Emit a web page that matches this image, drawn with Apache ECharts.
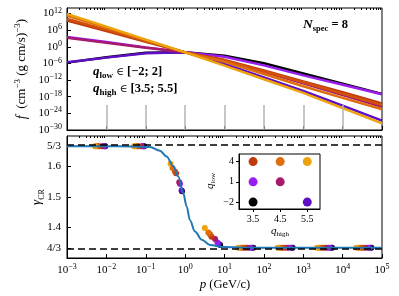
<!DOCTYPE html>
<html><head><meta charset="utf-8">
<script src="https://cdn.jsdelivr.net/npm/echarts@6/dist/echarts.min.js"></script>
<style>html,body{margin:0;padding:0;background:#fff}#c{width:399px;height:296px}</style>
</head><body><div id="c"></div>
<script>
// ---- data (log10 values) ----
const logP = [-3, -2, -1, 0, 1, 2, 3, 4, 5];           // log10 p (GeV/c)
const fBlack   = [-5.7, -3.8, -2.1, -2.0, -3.2, -5.9, -9.6, -13.3, -17.0];
const fIndigo  = [-5.6, -3.9, -2.3, -2.0, -6.2, -11.0, -15.9, -21.2, -26.6];
const fViolet  = [3.5, 1.7, -0.2, -2.0, -3.6, -6.7, -10.3, -13.7, -17.1];
const fMagenta = [3.3, 1.5, -0.3, -2.0, -5.0, -9.0, -13.2, -17.4, -21.6];
const fDarkRed = [9.5, 5.7, 1.8, -2.0, -4.7, -8.5, -12.5, -16.4, -20.4];
const fRed     = [10.1, 6.1, 2.1, -2.0, -4.9, -8.8, -12.8, -16.9, -21.0];
const fOrange  = [11.3, 6.9, 2.4, -2.0, -5.4, -9.8, -14.2, -18.4, -22.5];
const fYellow  = [11.9, 7.3, 2.6, -2.0, -6.8, -11.7, -16.6, -22.1, -27.6];
const binEdges = [-2, -1, 0, 1, 2, 3, 4];                // log10 p of bin boundaries
const binLineTop = -21;

// gamma_CR curve
const curveLogP  = [-3, -2, -1.4, -0.89, -0.64, -0.47, -0.30, -0.175, -0.05, 0.04, 0.12, 0.25, 0.42, 0.63, 0.97, 1.5, 2, 3, 4, 5];
const curveGamma = [1.6667, 1.6667, 1.6657, 1.664, 1.652, 1.633, 1.600, 1.567, 1.513, 1.469, 1.425, 1.387, 1.360, 1.343, 1.336, 1.3338, 1.3334, 1.3333, 1.3333, 1.3333];

// bin-averaged gamma per spectrum (log10 p, gamma)
const dotP_yellow  = [-2.29, -1.30, -0.37, 0.50, 1.35, 2.35, 3.35, 4.35];
const dotG_yellow  = [1.6667, 1.6667, 1.609, 1.398, 1.3335, 1.3335, 1.3335, 1.3335];
const dotP_orange  = [-2.27, -1.28, -0.32, 0.59, 1.40, 2.40, 3.40, 4.40];
const dotG_orange  = [1.6667, 1.6667, 1.595, 1.384, 1.3335, 1.3335, 1.3335, 1.3335];
const dotP_red     = [-2.22, -1.22, -0.26, 0.63, 1.46, 2.46, 3.46, 4.46];
const dotG_red     = [1.6667, 1.6667, 1.584, 1.378, 1.3335, 1.3335, 1.3335, 1.3335];
const dotP_darkred = [-2.19, -1.19, -0.23, 0.67, 1.51, 2.51, 3.51, 4.51];
const dotG_darkred = [1.6667, 1.6667, 1.578, 1.370, 1.3335, 1.3335, 1.3335, 1.3335];
const dotP_magenta = [-2.11, -1.11, -0.15, 0.76, 1.58, 2.58, 3.58, 4.58];
const dotG_magenta = [1.6667, 1.6667, 1.548, 1.362, 1.3335, 1.3335, 1.3335, 1.3335];
const dotP_violet  = [-2.08, -1.08, -0.13, 0.82, 1.64, 2.64, 3.64, 4.64];
const dotG_violet  = [1.6667, 1.6667, 1.543, 1.351, 1.3335, 1.3335, 1.3335, 1.3335];
const dotP_indigo  = [-2.04, -1.05, -0.09, 0.85, 1.69, 2.69, 3.69, 4.69];
const dotG_indigo  = [1.6667, 1.6667, 1.521, 1.347, 1.3335, 1.3335, 1.3335, 1.3335];
const dotP_black   = [-2.03, -1.04, -0.08, 0.89, 1.73, 2.73, 3.73, 4.73];
const dotG_black   = [1.6667, 1.6667, 1.519, 1.343, 1.3335, 1.3335, 1.3335, 1.3335];

// inset: parameter grid
const insetQHigh = [3.5, 4.5, 5.5, 3.5, 4.5, 3.5, 5.5];
const insetQLow  = [4, 4, 4, 1, 1, -2, -2];
const insetNames = ['darkred', 'orange', 'yellow', 'violet', 'magenta', 'black', 'indigo'];

// ticks
const xTicks = [-3, -2, -1, 0, 1, 2, 3, 4, 5];
const yTicksTop = [-30, -24, -18, -12, -6, 0, 6, 12];
const gammaTicks = [4/3, 1.4, 1.5, 1.6, 5/3];
const gammaTickLabels = ['4/3', '1.4', '1.5', '1.6', '5/3'];
const insetXTicks = [3.5, 4.5, 5.5];
const insetYTicks = [-2, 1, 4];
const insetYTickLabels = ['−2', '1', '4'];

// ---- styles ----
const col = {
  black: '#000000', indigo: '#5e0fc6', violet: '#9a1df0', magenta: '#a6196b',
  darkred: '#c0390a', red: '#d0500c', orange: '#df6c0d', yellow: '#eea20b'
};
const FONT = 'Liberation Serif';
const minorTicks = [];
for (let n = -3; n < 5; n++) for (let k = 2; k <= 9; k++) minorTicks.push(n + Math.log10(k));

const richTick = {
  b: { fontFamily: FONT, fontSize: 11, color: '#000', lineHeight: 14 },
  s: { fontFamily: FONT, fontSize: 8, color: '#000', lineHeight: 8, verticalAlign: 'top' }
};
function expLabel(v) {
  const n = Math.round(v);
  return '{b|10}{s|' + (n < 0 ? '−' + (-n) : String(n)) + '}';
}

const pairs = (a, b) => a.map((v, i) => [v, b[i]]);

const lineSpecs = [
  ['black', fBlack], ['indigo', fIndigo], ['violet', fViolet], ['magenta', fMagenta],
  ['darkred', fDarkRed], ['red', fRed], ['orange', fOrange], ['yellow', fYellow]
];
const dotSpecs = [
  ['black', dotP_black, dotG_black], ['indigo', dotP_indigo, dotG_indigo],
  ['violet', dotP_violet, dotG_violet], ['magenta', dotP_magenta, dotG_magenta],
  ['darkred', dotP_darkred, dotG_darkred], ['red', dotP_red, dotG_red],
  ['orange', dotP_orange, dotG_orange], ['yellow', dotP_yellow, dotG_yellow]
];

const series = [];
// bin boundary lines
series.push({
  type: 'line', xAxisIndex: 0, yAxisIndex: 0, data: [], z: 1, silent: true,
  markLine: {
    symbol: 'none', silent: true, label: { show: false },
    lineStyle: { color: '#b3b3b3', width: 1.5, type: 'solid' },
    data: binEdges.map(e => [{ coord: [e, -30] }, { coord: [e, binLineTop] }])
  }
});
lineSpecs.forEach(([name, arr]) => series.push({
  type: 'line', xAxisIndex: 0, yAxisIndex: 0, data: pairs(logP, arr), showSymbol: false,
  lineStyle: { color: col[name], width: 2.5 }, itemStyle: { color: col[name] }, z: 3, silent: true
}));
// dashed limits
series.push({
  type: 'line', xAxisIndex: 2, yAxisIndex: 1, data: [], z: 2, silent: true,
  markLine: {
    symbol: 'none', silent: true, label: { show: false },
    lineStyle: { color: '#000', width: 1.5, type: [7, 4] },
    data: [{ yAxis: 5/3 }, { yAxis: 4/3 }]
  }
});
dotSpecs.forEach(([name, p, g]) => series.push({
  type: 'scatter', xAxisIndex: 2, yAxisIndex: 1, data: pairs(p, g), symbolSize: 6,
  itemStyle: { color: col[name], opacity: 1 }, z: 3, silent: true
}));
series.push({
  type: 'line', xAxisIndex: 2, yAxisIndex: 1, data: pairs(curveLogP, curveGamma), showSymbol: false,
  smooth: 0.35, smoothMonotone: 'x', lineStyle: { color: '#1f77b4', width: 2 }, z: 4, silent: true
});
// inset
series.push({
  type: 'scatter', xAxisIndex: 4, yAxisIndex: 2, z: 12, silent: true, symbolSize: 9,
  itemStyle: { opacity: 1 },
  data: insetQHigh.map((q, i) => ({ value: [q, insetQLow[i]], itemStyle: { color: col[insetNames[i]], opacity: 1 } }))
});

const axisBase = {
  type: 'value', splitLine: { show: false },
  axisLine: { show: true, onZero: false, lineStyle: { color: '#000', width: 1 } }
};
const hiddenLine = { show: false, onZero: false };

const annRich = {
  i: { fontFamily: FONT, fontStyle: 'italic', fontWeight: 'bold', fontSize: 13, lineHeight: 16, fill: '#000' },
  s: { fontFamily: FONT, fontWeight: 'bold', fontSize: 9, lineHeight: 9, verticalAlign: 'bottom', fill: '#000' },
  e: { fontFamily: 'DejaVu Serif', fontSize: 10.5, lineHeight: 16, fill: '#000' },
  n: { fontFamily: FONT, fontWeight: 'bold', fontSize: 12.5, lineHeight: 16, fill: '#000' }
};

const option = {
  animation: false,
  backgroundColor: '#fff',
  grid: [
    { left: 67, top: 8, width: 315, height: 122, show: true, borderColor: '#000', borderWidth: 1, backgroundColor: 'transparent' },
    { left: 67, top: 136, width: 315, height: 122, show: true, borderColor: '#000', borderWidth: 1, backgroundColor: 'transparent' },
    { left: 239, top: 154, width: 81, height: 55, show: true, borderColor: '#000', borderWidth: 1, backgroundColor: '#fff', z: 10 }
  ],
  xAxis: [
    Object.assign({}, axisBase, { gridIndex: 0, min: -3, max: 5,
      axisTick: { inside: true, length: 4, customValues: xTicks, lineStyle: { color: '#000' } },
      axisLabel: { show: false } }),
    Object.assign({}, axisBase, { gridIndex: 0, min: -3, max: 5, axisLine: hiddenLine,
      axisTick: { inside: true, length: 2, customValues: minorTicks, lineStyle: { color: '#000' } },
      axisLabel: { show: false } }),
    Object.assign({}, axisBase, { gridIndex: 1, min: -3, max: 5,
      axisTick: { inside: true, length: 4, customValues: xTicks, lineStyle: { color: '#000' } },
      axisLabel: { show: true, customValues: xTicks, formatter: expLabel, rich: richTick, margin: 5 } }),
    Object.assign({}, axisBase, { gridIndex: 1, min: -3, max: 5, axisLine: hiddenLine,
      axisTick: { inside: true, length: 2, customValues: minorTicks, lineStyle: { color: '#000' } },
      axisLabel: { show: false } }),
    Object.assign({}, axisBase, { gridIndex: 2, min: 2.98, max: 5.97, z: 11,
      axisTick: { inside: false, length: 3, customValues: insetXTicks, lineStyle: { color: '#000' } },
      axisLabel: { show: true, customValues: insetXTicks, fontFamily: FONT, fontSize: 10, color: '#000', margin: 5,
        formatter: v => v.toFixed(1) } })
  ],
  yAxis: [
    Object.assign({}, axisBase, { gridIndex: 0, min: -30, max: 14,
      axisTick: { inside: true, length: 4, customValues: yTicksTop, lineStyle: { color: '#000' } },
      axisLabel: { show: true, customValues: yTicksTop, formatter: expLabel, rich: richTick, margin: 5 } }),
    Object.assign({}, axisBase, { gridIndex: 1, min: 1.30, max: 1.70,
      axisTick: { inside: true, length: 4, customValues: gammaTicks, lineStyle: { color: '#000' } },
      axisLabel: { show: true, customValues: gammaTicks, fontFamily: FONT, fontSize: 11, color: '#000', margin: 6,
        formatter: v => { const i = gammaTicks.findIndex(t => Math.abs(t - v) < 1e-6); return i >= 0 ? gammaTickLabels[i] : ''; } } }),
    Object.assign({}, axisBase, { gridIndex: 2, min: -3.03, max: 5.13, z: 11,
      axisTick: { inside: false, length: 3, customValues: insetYTicks, lineStyle: { color: '#000' } },
      axisLabel: { show: true, customValues: insetYTicks, fontFamily: FONT, fontSize: 10, color: '#000', margin: 5,
        formatter: v => { const i = insetYTicks.findIndex(t => Math.abs(t - v) < 1e-6); return i >= 0 ? insetYTickLabels[i] : ''; } } })
  ],
  graphic: [
    { type: 'text', x: 22, y: 69, rotation: Math.PI / 2, z: 20,
      style: { text: '{i|f}{n|  (cm}{s|−3}{n| (g cm/s)}{s|−3}{n|)}', align: 'center', verticalAlign: 'middle',
        rich: {
          i: { fontFamily: FONT, fontStyle: 'italic', fontSize: 14, lineHeight: 17, fill: '#000' },
          n: { fontFamily: FONT, fontSize: 13, lineHeight: 17, fill: '#000' },
          s: { fontFamily: FONT, fontSize: 9, lineHeight: 9, verticalAlign: 'top', fill: '#000' }
        } } },
    { type: 'text', x: 37, y: 197, rotation: Math.PI / 2, z: 20,
      style: { text: '{g|γ}{s|CR}', align: 'center', verticalAlign: 'middle',
        rich: {
          g: { fontFamily: FONT, fontStyle: 'italic', fontSize: 13, lineHeight: 17, fill: '#000' },
          s: { fontFamily: FONT, fontSize: 8, lineHeight: 9, verticalAlign: 'bottom', fill: '#000' }
        } } },
    { type: 'text', x: 225, y: 285, z: 20,
      style: { text: '{i|p}{n| (GeV/c)}', align: 'center', verticalAlign: 'middle',
        rich: {
          i: { fontFamily: FONT, fontStyle: 'italic', fontSize: 13, fill: '#000' },
          n: { fontFamily: FONT, fontSize: 12.5, fill: '#000' }
        } } },
    { type: 'text', x: 303, y: 25, z: 20,
      style: { text: '{i|N}{s|spec}{n| = 8}', align: 'left', verticalAlign: 'middle',
        rich: {
          i: { fontFamily: FONT, fontStyle: 'italic', fontWeight: 'bold', fontSize: 13.5, lineHeight: 17, fill: '#000' },
          s: { fontFamily: FONT, fontWeight: 'bold', fontSize: 8.5, lineHeight: 9, verticalAlign: 'bottom', fill: '#000' },
          n: { fontFamily: FONT, fontWeight: 'bold', fontSize: 12.5, lineHeight: 17, fill: '#000' }
        } } },
    { type: 'text', x: 93, y: 72, z: 20,
      style: { text: '{i|q}{s|low}{n| }{e|∈}{n| [−2; 2]}', align: 'left', verticalAlign: 'middle', rich: annRich } },
    { type: 'text', x: 93, y: 89, z: 20,
      style: { text: '{i|q}{s|high}{n| }{e|∈}{n| [3.5; 5.5]}', align: 'left', verticalAlign: 'middle', rich: annRich } },
    { type: 'text', x: 210, y: 181, rotation: Math.PI / 2, z: 20,
      style: { text: '{i|q}{s|low}', align: 'center', verticalAlign: 'middle',
        rich: {
          i: { fontFamily: FONT, fontStyle: 'italic', fontSize: 11, lineHeight: 14, fill: '#000' },
          s: { fontFamily: FONT, fontSize: 7, lineHeight: 8, verticalAlign: 'bottom', fill: '#000' }
        } } },
    { type: 'text', x: 280, y: 231, z: 20,
      style: { text: '{i|q}{s|high}', align: 'center', verticalAlign: 'middle',
        rich: {
          i: { fontFamily: FONT, fontStyle: 'italic', fontSize: 11, lineHeight: 14, fill: '#000' },
          s: { fontFamily: FONT, fontSize: 7, lineHeight: 8, verticalAlign: 'bottom', fill: '#000' }
        } } }
  ],
  series: series
};

const chart = echarts.init(document.getElementById('c'), null, { renderer: 'canvas' });
chart.setOption(option);
</script></body></html>
